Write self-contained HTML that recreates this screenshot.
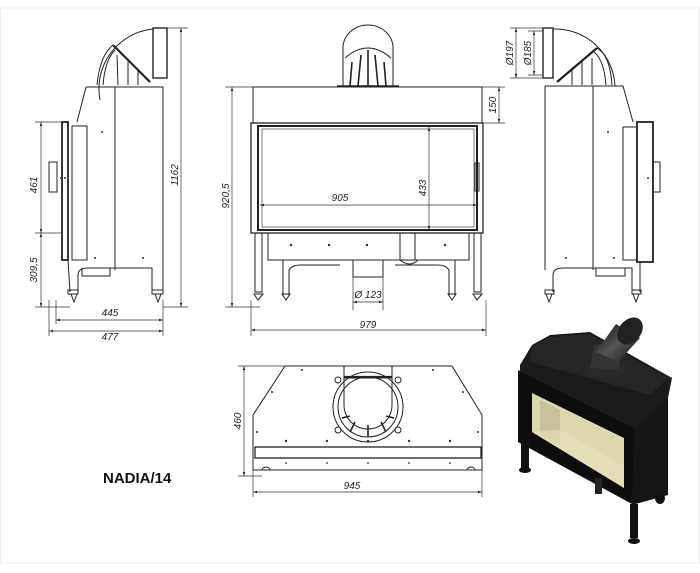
<!DOCTYPE html>
<html><head><meta charset="utf-8"><style>
html,body{margin:0;padding:0;background:#fff;}
svg{display:block;}
text{font-family:"Liberation Sans",sans-serif;font-style:italic;font-size:10px;fill:#222;}
</style></head><body>
<svg width="700" height="573" viewBox="0 0 700 573" xmlns="http://www.w3.org/2000/svg">
<defs>
<marker id="a" viewBox="0 0 10 10" refX="10" refY="5" markerWidth="6" markerHeight="6" orient="auto-start-reverse"><path d="M0,2 L10,5 L0,8 z" fill="#222"/></marker>
<linearGradient id="fl" x1="0" y1="0" x2="1" y2="1"><stop offset="0" stop-color="#111"/><stop offset="0.5" stop-color="#555"/><stop offset="1" stop-color="#111"/></linearGradient>
</defs>
<rect x="0.5" y="8" width="699" height="555" fill="none" stroke="#eee"/>
<g fill="none" stroke="#222" stroke-width="1">
<!-- LEFT SIDE VIEW -->
<path d="M100,100 A60,60 0 0 1 153,29"/>
<rect x="153" y="28" width="14" height="50" stroke-width="1.4"/>
<line x1="113" y1="45" x2="150" y2="82" stroke-width="2.2"/>
<path d="M97,85 Q100,55 113,45 M103,85 Q105,60 115,50 M118,85 L117,55 M128,85 L128,62 M138,85 L138,70"/>
<path d="M86,87 L163,87 L163,270 M86,87 L77,122"/>
<line x1="115" y1="87" x2="115" y2="270"/>
<rect x="62" y="122" width="6" height="138" stroke-width="1.8"/>
<rect x="72" y="126" width="15" height="134"/>
<rect x="49" y="162" width="8" height="30"/>
<path d="M68,260 L70,292 M78,292 L78,275 Q78,268 88,268 L152,268 L152,292 M163,270 L163,292"/>
<path d="M82,268 L82,276 L110,276 L110,268"/>
<rect x="68" y="290" width="10" height="4"/><rect x="152" y="290" width="11" height="4"/>
<path d="M71,294 L77,294 L74,302 Z M155,294 L161,294 L158,302 Z"/>
<!-- RIGHT SIDE VIEW -->
<path d="M615,86 A60,60 0 0 0 553,29"/>
<rect x="543" y="28" width="10" height="50" stroke-width="1.4"/>
<line x1="557" y1="82" x2="597" y2="48" stroke-width="2.2"/>
<path d="M612,85 Q610,55 597,48 M606,85 Q604,60 594,52 M592,85 L592,58 M582,85 L582,62 M572,85 L572,70"/>
<path d="M545,86 L623,86 L633,122 M545,86 L545,270"/>
<line x1="593" y1="86" x2="593" y2="270"/>
<rect x="637" y="122" width="16" height="140" stroke-width="1.8"/>
<rect x="623" y="127" width="14" height="133"/>
<rect x="653" y="162" width="7" height="30"/>
<path d="M553,292 L553,275 Q553,268 563,268 L632,268 L632,292 M640,262 L640,292"/>
<path d="M596,268 L596,276 L625,276 L625,268"/>
<rect x="545" y="290" width="9" height="4"/><rect x="632" y="290" width="9" height="4"/>
<path d="M546,294 L552,294 L549,302 Z M633,294 L639,294 L636,302 Z"/>
<!-- FRONT VIEW -->
<path d="M343,86 L343,48 A25,23 0 0 1 393,48 L393,86"/>
<path d="M345,58 Q368,38 391,58"/>
<path d="M350,86 L352,62 M358,86 L361,55 M368,86 L368,50 M378,86 L375,55 M386,86 L384,62" stroke-width="1.6"/>
<line x1="337" y1="86" x2="399" y2="86" stroke-width="1.6"/>
<rect x="253" y="87" width="229" height="36"/>
<rect x="251" y="123" width="232" height="110" stroke-width="1.3"/>
<rect x="258" y="126" width="219" height="104" stroke-width="2"/>
<rect x="262" y="129" width="212" height="98" stroke-width="0.6"/>
<rect x="475" y="163" width="4" height="28"/>
<rect x="268" y="233" width="201" height="27"/>
<rect x="400" y="233" width="15" height="27"/>
<path d="M400,260 Q410,268 418,260"/>
<rect x="353" y="260" width="30" height="17"/>
<path d="M255,233 L255,292 L262,292 L262,233 M474,233 L474,292 L481,292 L481,233"/>
<path d="M283,295 L283,260 M289,295 L289,270 Q292,265 300,265 L340,265 M449,295 L449,270 Q446,265 438,265 L395,265 M455,295 L455,260"/>
<path d="M254,294 L263,294 L258,300 Z M282,294 L290,294 L286,300 Z M448,294 L456,294 L452,300 Z M473,294 L482,294 L477,300 Z"/>
<!-- TOP VIEW -->
<path d="M285,366 L452,366 L482,415 L482,470 L253,470 L253,415 Z"/>
<rect x="255" y="447" width="226" height="11" stroke-width="1.3"/>
<rect x="344" y="366" width="48" height="12"/>
<line x1="344" y1="377" x2="392" y2="377" stroke-width="2.2"/>
<circle cx="368" cy="407" r="35"/>
<circle cx="368" cy="407" r="30"/>
<path d="M344,378 L344,405 A24,24 0 0 0 392,405 L392,378"/>
<circle cx="338" cy="380" r="3"/><circle cx="398" cy="380" r="3"/><circle cx="338" cy="430" r="3"/><circle cx="398" cy="430" r="3"/>
<path d="M350,432 L355,422 M368,437 L368,425 M386,432 L381,422 M342,418 L350,416 M394,418 L386,416" stroke-width="1.6"/>
<path d="M262,470 a4,3 0 1 1 8,0 M467,470 a4,3 0 1 1 8,0"/>
</g>
<g fill="#333">
<circle cx="102" cy="132" r="1"/><circle cx="61" cy="178" r="1"/><circle cx="65" cy="178" r="1"/><circle cx="95" cy="258" r="1"/><circle cx="143" cy="258" r="1"/>
<circle cx="608" cy="132" r="1"/><circle cx="648" cy="178" r="1"/><circle cx="566" cy="258" r="1"/><circle cx="614" cy="258" r="1"/>
<circle cx="291" cy="245" r="1.2"/><circle cx="329" cy="245" r="1.2"/><circle cx="367" cy="245" r="1.2"/><circle cx="445" cy="245" r="1.2"/>
<circle cx="302" cy="370" r="1"/><circle cx="433" cy="370" r="1"/><circle cx="272" cy="392" r="1"/><circle cx="463" cy="392" r="1"/>
<circle cx="257" cy="432" r="1"/><circle cx="478" cy="432" r="1"/>
<circle cx="286" cy="441" r="1.2"/><circle cx="327" cy="441" r="1.2"/><circle cx="368" cy="441" r="1.2"/><circle cx="409" cy="441" r="1.2"/><circle cx="450" cy="441" r="1.2"/>
<circle cx="286" cy="463" r="0.9"/><circle cx="327" cy="463" r="0.9"/><circle cx="368" cy="463" r="0.9"/><circle cx="409" cy="463" r="0.9"/><circle cx="450" cy="463" r="0.9"/>
</g>
<!-- DIMENSIONS -->
<g fill="none" stroke="#333" stroke-width="0.7">
<path d="M163,28 L188,28 M163,307 L188,307 M35,122 L62,122 M35,233 L62,233 M35,307 L70,307 M56,300 L56,324 M49,300 L49,336 M163,300 L163,336"/>
<line x1="181" y1="28" x2="181" y2="307" marker-start="url(#a)" marker-end="url(#a)"/>
<line x1="41" y1="122" x2="41" y2="233" marker-start="url(#a)" marker-end="url(#a)"/>
<line x1="41" y1="233" x2="41" y2="307" marker-start="url(#a)" marker-end="url(#a)"/>
<line x1="56" y1="320" x2="163" y2="320" marker-start="url(#a)" marker-end="url(#a)"/>
<line x1="49" y1="331" x2="163" y2="331" marker-start="url(#a)" marker-end="url(#a)"/>
<path d="M225,87 L253,87 M225,307 L260,307 M251,300 L251,336 M486,300 L486,336 M482,123 L505,123 M482,87 L505,87 M353,277 L353,310 M383,277 L383,310"/>
<line x1="232" y1="87" x2="232" y2="307" marker-start="url(#a)" marker-end="url(#a)"/>
<line x1="251" y1="330" x2="486" y2="330" marker-start="url(#a)" marker-end="url(#a)"/>
<line x1="499" y1="87" x2="499" y2="123" marker-start="url(#a)" marker-end="url(#a)"/>
<line x1="429" y1="127" x2="429" y2="230" marker-start="url(#a)" marker-end="url(#a)"/>
<line x1="260" y1="205" x2="477" y2="205" marker-start="url(#a)" marker-end="url(#a)"/>
<line x1="353" y1="302" x2="383" y2="302" marker-start="url(#a)" marker-end="url(#a)"/>
<path d="M510,28 L543,28 M510,78 L543,78 M528,31 L543,31 M528,75 L543,75"/>
<line x1="516" y1="28" x2="516" y2="78" marker-start="url(#a)" marker-end="url(#a)"/>
<line x1="534" y1="31" x2="534" y2="75" marker-start="url(#a)" marker-end="url(#a)"/>
<path d="M238,366 L285,366 M238,476 L262,476 M253,470 L253,497 M482,470 L482,497"/>
<line x1="244" y1="366" x2="244" y2="476" marker-start="url(#a)" marker-end="url(#a)"/>
<line x1="253" y1="492" x2="482" y2="492" marker-start="url(#a)" marker-end="url(#a)"/>
</g>
<g>
<text transform="translate(178,175) rotate(-90)" text-anchor="middle">1162</text>
<text transform="translate(37,185) rotate(-90)" text-anchor="middle">461</text>
<text transform="translate(37,270) rotate(-90)" text-anchor="middle">309,5</text>
<text x="110" y="316" text-anchor="middle">445</text>
<text x="110" y="340" text-anchor="middle">477</text>
<text transform="translate(229,196) rotate(-90)" text-anchor="middle">920,5</text>
<text x="368" y="330" text-anchor="middle" dy="-2">979</text>
<text transform="translate(496,105) rotate(-90)" text-anchor="middle">150</text>
<text transform="translate(426,188) rotate(-90)" text-anchor="middle">433</text>
<text x="340" y="201" text-anchor="middle">905</text>
<text x="368" y="298" text-anchor="middle">Ø 123</text>
<text transform="translate(513,53) rotate(-90)" text-anchor="middle">Ø197</text>
<text transform="translate(531,53) rotate(-90)" text-anchor="middle">Ø185</text>
<text transform="translate(241,421) rotate(-90)" text-anchor="middle">460</text>
<text x="352" y="489" text-anchor="middle">945</text>
<text x="103" y="483" style="font-style:normal;font-weight:bold;font-size:15px;fill:#111">NADIA/14</text>
</g>
<!-- ISOMETRIC -->
<g>
<polygon points="520,365 532,345 550,335 590,332 672,378 668,398 647,432 632,432 520,372" fill="#1a1a1a"/>
<polygon points="532,347 550,337 590,334 668,378 650,395 530,362" fill="#262626"/>
<polygon points="632,432 668,398 668,495 632,505" fill="#151515"/>
<polygon points="518,370 634,428 632,504 518,442" fill="#0d0d0d"/>
<polygon points="532,393 624,438 624,488 532,432" fill="#ded8ae"/>
<polygon points="540,400 560,410 560,445 540,435" fill="#c8c29a"/>
<polygon points="560,430 624,466 624,488 532,432" fill="#e8e2bc" opacity="0.6"/>
<rect x="521" y="440" width="8" height="28" fill="#111"/><ellipse cx="525" cy="470" rx="6" ry="3" fill="#111"/>
<rect x="630" y="504" width="8" height="34" fill="#111"/><ellipse cx="634" cy="541" rx="6" ry="3" fill="#111"/>
<rect x="595" y="478" width="7" height="16" fill="#222"/>
<ellipse cx="660" cy="498" rx="5" ry="6" fill="#111"/>
<ellipse cx="605" cy="370" rx="20" ry="9" fill="#2a2a2a"/>
<path d="M590,368 L594,345 L618,342 L620,370 Z" fill="#333"/>
<path d="M596,352 L616,324 L640,338 L618,362 Z" fill="url(#fl)"/>
<ellipse cx="630" cy="331" rx="11" ry="15" transform="rotate(40 630 331)" fill="#222"/>
</g>
</svg>
</body></html>
